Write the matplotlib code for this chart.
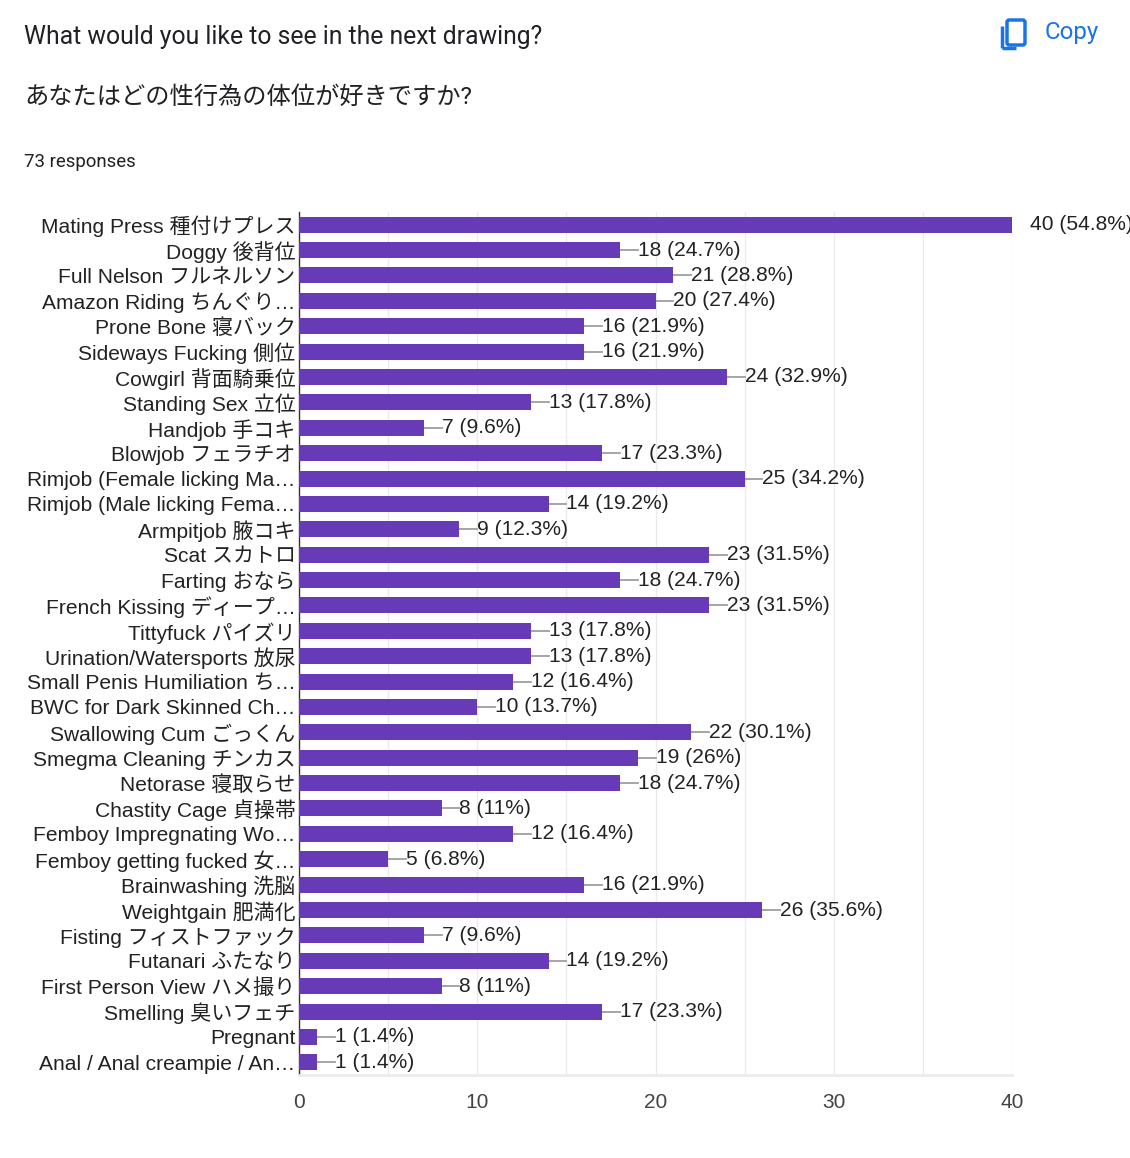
import matplotlib
matplotlib.use("Agg")
import matplotlib.pyplot as plt
from matplotlib.patches import Rectangle, FancyBboxPatch

plt.rcParams['font.family'] = ['Liberation Sans', 'Noto Sans CJK JP', 'DejaVu Sans']
HEAD = ['Roboto', 'Noto Sans CJK JP', 'DejaVu Sans']

categories = [
    "Mating Press 種付けプレス", "Doggy 後背位", "Full Nelson フルネルソン", "Amazon Riding ちんぐり…",
    "Prone Bone 寝バック", "Sideways Fucking 側位", "Cowgirl 背面騎乗位", "Standing Sex 立位",
    "Handjob 手コキ", "Blowjob フェラチオ", "Rimjob (Female licking Ma…", "Rimjob (Male licking Fema…",
    "Armpitjob 腋コキ", "Scat スカトロ", "Farting おなら", "French Kissing ディープ…",
    "Tittyfuck パイズリ", "Urination/Watersports 放尿", "Small Penis Humiliation ち…",
    "BWC for Dark Skinned Ch…", "Swallowing Cum ごっくん", "Smegma Cleaning チンカス",
    "Netorase 寝取らせ", "Chastity Cage 貞操帯", "Femboy Impregnating Wo…", "Femboy getting fucked 女…",
    "Brainwashing 洗脳", "Weightgain 肥満化", "Fisting フィストファック", "Futanari ふたなり",
    "First Person View ハメ撮り", "Smelling 臭いフェチ", "Pregnant", "Anal / Anal creampie / An…",
]
counts = [40, 18, 21, 20, 16, 16, 24, 13, 7, 17, 25, 14, 9, 23, 18, 23, 13, 13, 12, 10,
          22, 19, 18, 8, 12, 5, 16, 26, 7, 14, 8, 17, 1, 1]
percents = ["54.8%", "24.7%", "28.8%", "27.4%", "21.9%", "21.9%", "32.9%", "17.8%", "9.6%", "23.3%",
            "34.2%", "19.2%", "12.3%", "31.5%", "24.7%", "31.5%", "17.8%", "17.8%", "16.4%", "13.7%",
            "30.1%", "26%", "24.7%", "11%", "16.4%", "6.8%", "21.9%", "35.6%", "9.6%", "19.2%",
            "11%", "23.3%", "1.4%", "1.4%"]
xticks = [0, 10, 20, 30, 40]

W, H = 1130, 1158
fig = plt.figure(figsize=(W / 100, H / 100), dpi=100)
ax = fig.add_axes([299 / W, 1 - 1075 / H, (1012 - 299) / W, (1075 - 212) / H])

bar_color = "#673ab7"
y = list(range(len(categories)))
ax.barh(y, counts, height=0.63, color=bar_color, zorder=3)
ax.set_ylim(len(categories) - 0.5, -0.5)
ax.set_xlim(0, 40)
ax.set_yticks(y)
ax.set_yticklabels(categories, fontsize=15.1, color="#222222")
ax.set_xticks(xticks)
ax.set_xticklabels([str(t) for t in xticks], fontsize=15, color="#444444")
ax.set_xticks(range(0, 41, 5), minor=True)
ax.tick_params(axis='both', which='both', length=0)
ax.tick_params(axis='y', which='both', pad=2.5)
ax.tick_params(axis='x', which='both', pad=13)
ax.grid(axis='x', which='both', color="#ebebeb", linewidth=1, zorder=0)
for s in ['top', 'right']:
    ax.spines[s].set_visible(False)
ax.spines['bottom'].set_color("#ebebeb")
ax.spines['bottom'].set_linewidth(2)
ax.spines['left'].set_color("#333333")
ax.spines['left'].set_linewidth(1)

xmax = max(counts)
for yi, c, p in zip(y, counts, percents):
    if c < xmax:
        ax.plot([c, c + 1.0], [yi, yi], color="#9e9e9e", linewidth=1.3, zorder=2, clip_on=False)
    ax.text(c + 1.0, yi, f"{c} ({p})", va='center', ha='left', fontsize=15.1,
            color="#222222", clip_on=False)

fig.text(24 / W, 1 - 37 / H, "What would you like to see in the next drawing?", fontsize=17.8,
         color="#202124", va='center', ha='left', family=HEAD)
fig.text(24 / W, 1 - 97 / H, "あなたはどの性行為の体位が好きですか?", fontsize=17.5,
         color="#202124", va='center', ha='left', family=HEAD)
fig.text(24 / W, 1 - 162 / H, "73 responses", fontsize=13.4, color="#202124", va='center', ha='left',
         family=HEAD)

# Copy button
blue = "#1a73e8"
fig.text(1045 / W, 1 - 33 / H, "Copy", fontsize=17.3, color=blue, va='center', ha='left', family=HEAD)
fig.patches.append(FancyBboxPatch((1007 / W, 1 - 45 / H), 18 / W, 25 / H,
                                  boxstyle="round,pad=0,rounding_size=0.002",
                                  transform=fig.transFigure, fill=False, edgecolor=blue, linewidth=2.5))
fig.patches.append(Rectangle((1002 / W, 1 - 48 / H), 14 / W, 0, transform=fig.transFigure,
                             fill=False, edgecolor=blue, linewidth=2.5))
fig.patches.append(Rectangle((1002 / W, 1 - 48 / H), 0, 22 / H, transform=fig.transFigure,
                             fill=False, edgecolor=blue, linewidth=2.5))

fig.savefig("out.png", dpi=100, facecolor="white")
